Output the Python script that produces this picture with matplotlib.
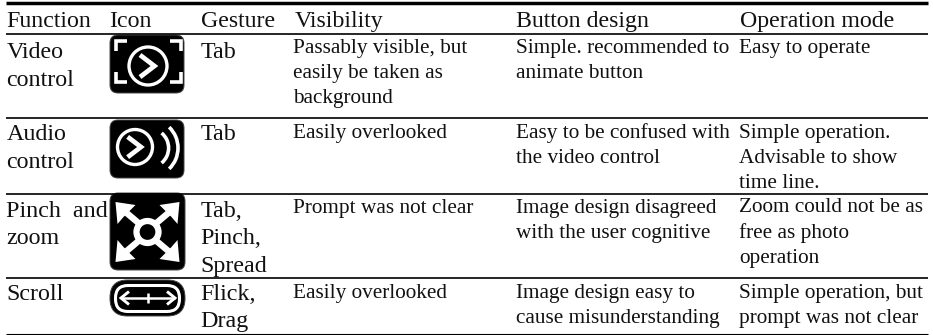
import numpy as np
import matplotlib
matplotlib.use("Agg")
import matplotlib.pyplot as plt
from matplotlib.patches import Arc, Circle, FancyBboxPatch, Polygon

plt.rcParams["font.family"] = ["Liberation Serif", "DejaVu Serif"]

headers = ["Function", "Icon", "Gesture", "Visibility", "Button design", "Operation mode"]
functions = [["Video", "control"], ["Audio", "control"], ["Pinch  and", "zoom"], ["Scroll"]]
gestures = [["Tab"], ["Tab"], ["Tab,", "Pinch,", "Spread"], ["Flick,", "Drag"]]
visibility = [
    ["Passably visible, but", "easily be taken as", "background"],
    ["Easily overlooked"],
    ["Prompt was not clear"],
    ["Easily overlooked"],
]
button_design = [
    ["Simple. recommended to", "animate button"],
    ["Easy to be confused with", "the video control"],
    ["Image design disagreed", "with the user cognitive"],
    ["Image design easy to", "cause misunderstanding"],
]
operation_mode = [
    ["Easy to operate"],
    ["Simple operation.", "Advisable to show", "time line."],
    ["Zoom could not be as", "free as photo", "operation"],
    ["Simple operation, but", "prompt was not clear"],
]

header_x = [6.5, 109, 201, 294.5, 516.5, 739.5]
left_x = [6.5, 200.5]
right_x = [293, 516.5, 739]
left_base = [58, 140, 217, 300]
right_base = [53, 138, 212.5, 298]

fig = plt.figure(figsize=(9.33, 3.35), dpi=100)
ax = fig.add_axes([0, 0, 1, 1])
ax.set_xlim(0, 933)
ax.set_ylim(335, 0)
ax.axis("off")

# horizontal rules
ax.plot([6, 928], [2.7, 2.7], color="k", lw=2.5, solid_capstyle="butt")
for y in [33.5, 118, 194, 278]:
    ax.plot([6, 928], [y, y], color="k", lw=1.2, solid_capstyle="butt")
ax.plot([6, 928], [334, 334], color="k", lw=0.8, solid_capstyle="butt")


def put(x, base, lines, fs, step):
    for i, s in enumerate(lines):
        ax.text(x, base + i * step, s, fontsize=fs, color="#111111", va="baseline", ha="left")


for x, h in zip(header_x, headers):
    put(x, 27, [h], 17.2, 0)
for r in range(4):
    put(left_x[0], left_base[r], functions[r], 17.3, 27.5)
    put(left_x[1], left_base[r], gestures[r], 17.3, 27.5)
    put(right_x[0], right_base[r], visibility[r], 15.35, 25.2)
    put(right_x[1], right_base[r], button_design[r], 15.35, 25.2)
    put(right_x[2], right_base[r], operation_mode[r], 15.35, 25.2)


def box(x0, y0, x1, y1, pad=8):
    ax.add_patch(FancyBboxPatch((x0 + pad, y0 + pad), x1 - x0 - 2 * pad, y1 - y0 - 2 * pad,
                                boxstyle=f"round,pad={pad}", fc="k", ec="#444444", lw=0.7))


def white(xs, ys, lw=2.2):
    ax.plot(xs, ys, color="w", lw=lw, solid_capstyle="butt", solid_joinstyle="miter")


def play(cx, cy, r):
    ax.add_patch(Circle((cx, cy), r, fc="none", ec="w", lw=2.4))
    white([cx - r * 0.42, cx + r * 0.34, cx - r * 0.42], [cy - r * 0.58, cy, cy + r * 0.58], lw=3.4)


# video icon
box(110, 35, 184, 93)
play(148, 66, 19)
for bx, by, dx, dy in [(115.5, 41, 1, 1), (180.5, 41, -1, 1), (115.5, 82, 1, -1), (180.5, 82, -1, -1)]:
    white([bx + dx * 11, bx, bx], [by, by, by + dy * 10], lw=2.6)

# audio icon
box(110, 120, 184, 178)
play(135, 147, 17.5)
for w, th in [(39.2, 50), (58, 46)]:
    ax.add_patch(Arc((149, 148), w, w, theta1=-th, theta2=th, ec="w", lw=2.6))

# pinch and zoom icon
box(110, 193, 185, 270)
cx, cy = 147.5, 232
ax.add_patch(Circle((cx, cy), 11, fc="none", ec="w", lw=4.5))
for sx, sy in [(-1, -1), (1, -1), (-1, 1), (1, 1)]:
    white([cx + sx * 9, cx + sx * 22], [cy + sy * 9, cy + sy * 20], lw=4.6)
    ax.add_patch(Polygon([(cx + sx * 32, cy + sy * 30), (cx + sx * 12, cy + sy * 27),
                          (cx + sx * 19, cy + sy * 20), (cx + sx * 24, cy + sy * 15),
                          (cx + sx * 30, cy + sy * 8)], fc="w", ec="none"))

# scroll icon
box(110, 280, 185, 316, pad=17.5)
ax.add_patch(FancyBboxPatch((128, 298), 39, 1, boxstyle="round,pad=12.5", fc="none", ec="w", lw=2.2))
white([121, 175], [298, 298], lw=1.8)
white([148, 148], [293, 302.5], lw=1.8)
white([129, 121, 129], [291.5, 298, 304.5], lw=2.1)
white([167, 175, 167], [291.5, 298, 304.5], lw=2.1)

fig.savefig("out.png", dpi=100)
